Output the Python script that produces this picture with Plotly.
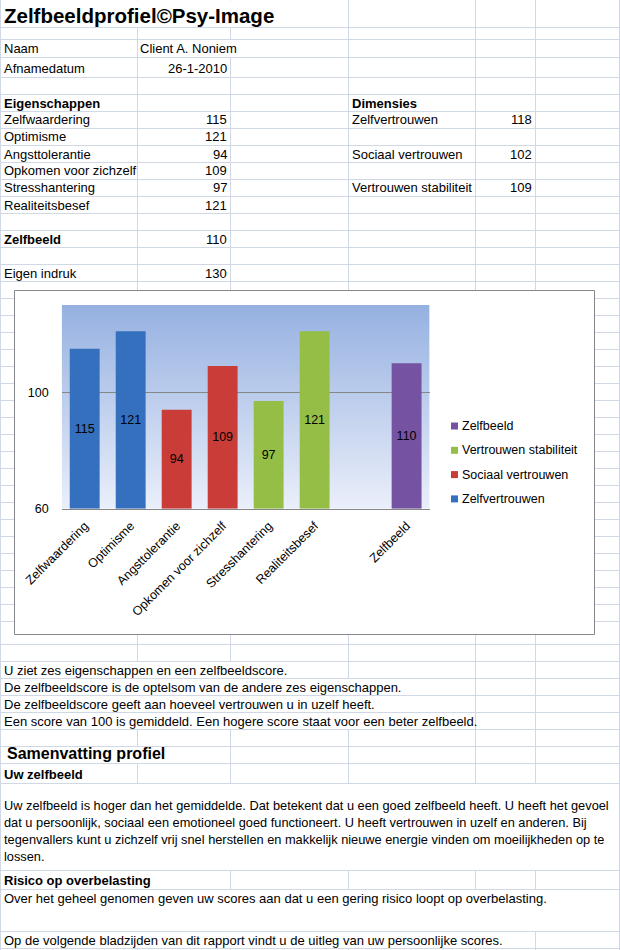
import base64
import struct
import zlib

import plotly.graph_objects as go

W, H = 620, 950

# ---------------- data ----------------
title_text = "Zelfbeeldprofiel©Psy-Image"
name_label, name_value = "Naam", "Client A. Noniem"
date_label, date_value = "Afnamedatum", "26-1-2010"

traits_heading = "Eigenschappen"
trait_names = ["Zelfwaardering", "Optimisme", "Angsttolerantie",
               "Opkomen voor zichzelf", "Stresshantering", "Realiteitsbesef"]
trait_scores = [115, 121, 94, 109, 97, 121]
trait_dimensions = ["Zelfvertrouwen", "Zelfvertrouwen",
                    "Sociaal vertrouwen", "Sociaal vertrouwen",
                    "Vertrouwen stabiliteit", "Vertrouwen stabiliteit"]

dimensions_heading = "Dimensies"
dimension_names = ["Zelfvertrouwen", "Sociaal vertrouwen", "Vertrouwen stabiliteit"]
dimension_scores = [118, 102, 109]

zelfbeeld_label = "Zelfbeeld"
zelfbeeld_score = 110
eigen_indruk_label = "Eigen indruk"
eigen_indruk_score = 130

y_ticks = [60, 100]
y_min, y_max = 60, 130

series_order = ["Zelfvertrouwen", "Sociaal vertrouwen", "Vertrouwen stabiliteit", "Zelfbeeld"]
series_colors = ["#3470bd", "#c93c38", "#94be45", "#7552a2"]

intro_lines = [
    "U ziet zes eigenschappen en een zelfbeeldscore.",
    "De zelfbeeldscore is de optelsom van de andere zes eigenschappen.",
    "De zelfbeeldscore geeft aan hoeveel vertrouwen u in uzelf heeft.",
    "Een score van 100 is gemiddeld. Een hogere score staat voor een beter zelfbeeld.",
]
summary_title = "Samenvatting profiel"
zelfbeeld_heading = "Uw zelfbeeld"
zelfbeeld_paragraph = [
    "Uw zelfbeeld is hoger dan het gemiddelde. Dat betekent dat u een goed zelfbeeld heeft. U heeft het gevoel",
    "dat u persoonlijk, sociaal een emotioneel goed functioneert. U heeft vertrouwen in uzelf en anderen. Bij",
    "tegenvallers kunt u zichzelf vrij snel herstellen en makkelijk nieuwe energie vinden om moeilijkheden op te",
    "lossen.",
]
risk_heading = "Risico op overbelasting"
risk_text = "Over het geheel genomen geven uw scores aan dat u een gering risico loopt op overbelasting."
closing_text = "Op de volgende bladzijden van dit rapport vindt u de uitleg van uw persoonlijke scores."

# ---------------- helpers ----------------
SHEET_FONT = "Liberation Sans, Arial, sans-serif"
CHART_FONT = "Liberation Sans, Arial, sans-serif"
GRID = "#d0d7e5"


def px(x):
    return x / W


def py(y):
    return 1 - y / H


annotations = []
shapes = []


def label(x, y, text, anchor="left", size=13, bold=False, font=SHEET_FONT):
    annotations.append(dict(
        x=px(x), y=py(y), xref="paper", yref="paper",
        text=f"<b>{text}</b>" if bold else text,
        showarrow=False, xanchor=anchor, yanchor="middle", align="left",
        font=dict(family=font, size=size, color="#000000"),
    ))


def gradient_png(top_rgb, bottom_rgb, n=160):
    raw = b""
    for i in range(n):
        t = i / (n - 1)
        c = bytes(round(a + (b - a) * t) for a, b in zip(top_rgb, bottom_rgb))
        raw += b"\x00" + c + c

    def chunk(tag, data):
        return (struct.pack(">I", len(data)) + tag + data
                + struct.pack(">I", zlib.crc32(tag + data) & 0xFFFFFFFF))

    png = (b"\x89PNG\r\n\x1a\n"
           + chunk(b"IHDR", struct.pack(">IIBBBBB", 2, n, 8, 2, 0, 0, 0))
           + chunk(b"IDAT", zlib.compress(raw))
           + chunk(b"IEND", b""))
    return "data:image/png;base64," + base64.b64encode(png).decode()


# ---------------- spreadsheet grid ----------------
row_lines = ([27.5, 39.5, 57.5, 77.5, 94.5]
             + [111.5 + 17 * k for k in range(31)]
             + [644.5, 661.5, 678.5, 695.5, 712.5, 729.5, 746.5, 763.5,
                783.5, 870.5, 889.5, 931.5, 948.5])
col_lines = [0.5, 137.5, 230.5, 348.5, 475.5, 535.5, 619.5]

for yl in row_lines:
    shapes.append(dict(type="line", xref="paper", yref="paper", layer="below",
                       x0=0, x1=1, y0=py(yl), y1=py(yl),
                       line=dict(color=GRID, width=1)))
for xl in col_lines:
    shapes.append(dict(type="line", xref="paper", yref="paper", layer="below",
                       x0=px(xl), x1=px(xl), y0=0, y1=1,
                       line=dict(color=GRID, width=1)))

# cells whose text overflows hide the vertical grid lines underneath
overflow_masks = [
    (1, 347.5, 0, 27.5),
    (138.5, 347.5, 39.5, 57.5),
    (1, 347.5, 661.5, 678.5),
    (1, 474.5, 678.5, 695.5),
    (1, 474.5, 695.5, 712.5),
    (1, 474.5, 712.5, 729.5),
    (1, 229.5, 746.5, 763.5),
    (1, 618.5, 783.5, 870.5),
    (1, 229.5, 870.5, 889.5),
    (1, 618.5, 889.5, 931.5),
    (1, 534.5, 931.5, 948.5),
]
for x0, x1, y0, y1 in overflow_masks:
    shapes.append(dict(type="rect", xref="paper", yref="paper", layer="below",
                       x0=px(x0), x1=px(x1), y0=py(y0 + 0.5), y1=py(y1 - 0.5),
                       fillcolor="white", line=dict(width=0)))

# chart object frame
shapes.append(dict(type="rect", xref="paper", yref="paper", layer="below",
                   x0=px(14.5), x1=px(594.5), y0=py(290.5), y1=py(634.5),
                   fillcolor="white", line=dict(color="#878787", width=1)))

# ---------------- spreadsheet text ----------------
label(2, 16, title_text, size=20.5, bold=True)
label(2, 48.5, name_label)
label(138, 48.5, name_value)
label(2, 68.5, date_label)
label(229, 68.5, date_value, anchor="right")

label(2, 103, traits_heading, bold=True)
label(350, 103, dimensions_heading, bold=True)
for i, (n, s) in enumerate(zip(trait_names, trait_scores)):
    yy = 120 + 17 * i
    label(2, yy, n)
    label(229, yy, str(s), anchor="right")
for i, (n, s) in enumerate(zip(dimension_names, dimension_scores)):
    yy = 120 + 34 * i
    label(350, yy, n)
    label(534, yy, str(s), anchor="right")

label(2, 239, zelfbeeld_label, bold=True)
label(229, 239, str(zelfbeeld_score), anchor="right")
label(2, 273, eigen_indruk_label)
label(229, 273, str(eigen_indruk_score), anchor="right")

for i, line in enumerate(intro_lines):
    label(2, 670 + 17 * i, line)
label(5, 753.5, summary_title, size=16, bold=True)
label(2, 774, zelfbeeld_heading, bold=True)
for i, line in enumerate(zelfbeeld_paragraph):
    label(2, 805 + 17 * i, line, size=12.8)
label(2, 880.5, risk_heading, bold=True)
label(2, 898, risk_text)
label(2, 940, closing_text)

# ---------------- chart ----------------
chart_categories = trait_names + [""] + [zelfbeeld_label]
positions = list(range(len(chart_categories)))

fig = go.Figure()
for name, color in zip(series_order, series_colors):
    if name == zelfbeeld_label:
        xs = [positions[-1]]
        vals = [zelfbeeld_score]
    else:
        idx = [i for i, d in enumerate(trait_dimensions) if d == name]
        xs = [positions[i] for i in idx]
        vals = [trait_scores[i] for i in idx]
    fig.add_trace(go.Bar(
        name=name, x=xs, y=[v - y_min for v in vals], base=y_min,
        width=0.65, marker=dict(color=color, line=dict(width=0)),
        text=[str(v) for v in vals], textposition="inside",
        insidetextanchor="middle", textangle=0,
        textfont=dict(family=CHART_FONT, size=12.5, color="#000000"),
        cliponaxis=False, showlegend=False,
    ))

# manual legend (Excel style, reversed order)
legend_y0, legend_dy = 426, 24.3
for i, (name, color) in enumerate(reversed(list(zip(series_order, series_colors)))):
    yy = legend_y0 + legend_dy * i
    shapes.append(dict(type="rect", xref="paper", yref="paper", layer="above",
                       x0=px(451), x1=px(458), y0=py(yy + 3.5), y1=py(yy - 3.5),
                       fillcolor=color, line=dict(width=0)))
    label(459.5, yy, name, size=12.5, font=CHART_FONT)

bg_src = gradient_png((150, 177, 225), (234, 239, 250))

fig.update_layout(
    width=W, height=H,
    margin=dict(l=0, r=0, t=0, b=0, autoexpand=False),
    paper_bgcolor="white", plot_bgcolor="rgba(0,0,0,0)",
    showlegend=False,
    barmode="overlay",
    shapes=shapes, annotations=annotations,
    images=[dict(source=bg_src, xref="x", yref="y",
                 x=-0.5, y=y_max, sizex=len(chart_categories), sizey=y_max - y_min,
                 sizing="stretch", xanchor="left", yanchor="top", layer="below")],
    xaxis=dict(domain=[px(61.7), px(429.6)], range=[-0.5, len(chart_categories) - 0.5],
               tickvals=positions, ticktext=chart_categories, tickangle=-45,
               showgrid=False, zeroline=False, showline=True, linecolor="#868686",
               ticks="", ticklabelstandoff=4,
               tickfont=dict(family=CHART_FONT, size=12.5, color="#000000"),
               fixedrange=True, automargin=False),
    yaxis=dict(domain=[py(508.7), py(305)], range=[y_min, y_max],
               tickvals=y_ticks, showgrid=True, gridcolor="#868686", gridwidth=1,
               zeroline=False, showline=False, ticks="", ticklabelstandoff=12,
               tickfont=dict(family=CHART_FONT, size=12.5, color="#000000"),
               fixedrange=True, automargin=False),
)

fig.write_html("out.html", config={"displayModeBar": False, "staticPlot": True},
               post_script="document.body.style.margin='0';document.body.style.overflow='hidden';")
